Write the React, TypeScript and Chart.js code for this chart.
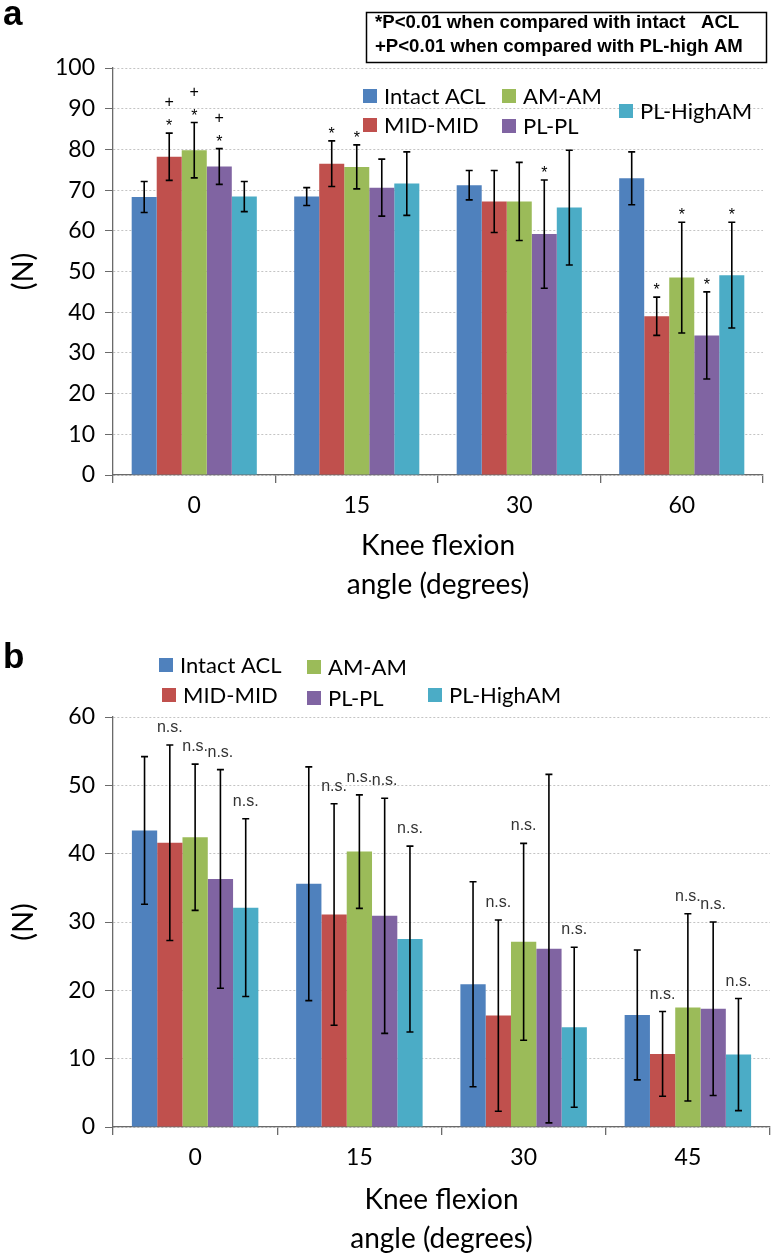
import React, { useEffect, useRef } from 'react';
import { Chart, registerables } from 'chart.js';

Chart.register(...registerables);

// ---------- data ----------
const SERIES = ['Intact ACL', 'MID-MID', 'AM-AM', 'PL-PL', 'PL-HighAM'];
const COLORS = ['#4F81BD', '#C0504D', '#9BBB59', '#8064A2', '#4BACC6'];

// Panel a
const A_ANGLES = ['0', '15', '30', '60'];
const A_INTACT = [68.3, 68.4, 71.2, 72.9];
const A_MID = [78.2, 76.5, 67.2, 39.0];
const A_AM = [79.8, 75.7, 67.2, 48.5];
const A_PL = [75.8, 70.6, 59.2, 34.3];
const A_HIGH = [68.4, 71.6, 65.7, 49.1];
const A_INTACT_SD = [3.8, 2.2, 3.6, 6.5];
const A_MID_SD = [5.8, 5.6, 7.6, 4.7];
const A_AM_SD = [6.8, 5.4, 9.6, 13.6];
const A_PL_SD = [4.4, 7.0, 13.3, 10.7];
const A_HIGH_SD = [3.7, 7.8, 14.1, 13.0];
// significance: * vs intact ACL, + vs PL-high AM
const A_STAR = [
  [0, 0, 0, 0],
  [1, 1, 0, 1],
  [1, 1, 0, 1],
  [1, 0, 1, 1],
  [0, 0, 0, 1],
];
const A_PLUS = [
  [0, 0, 0, 0],
  [1, 0, 0, 0],
  [1, 0, 0, 0],
  [1, 0, 0, 0],
  [0, 0, 0, 0],
];
const A_Y_TICKS = { min: 0, max: 100, step: 10 };

// Panel b
const B_ANGLES = ['0', '15', '30', '45'];
const B_INTACT = [43.4, 35.6, 20.9, 16.4];
const B_MID = [41.6, 31.1, 16.3, 10.7];
const B_AM = [42.4, 40.3, 27.1, 17.5];
const B_PL = [36.3, 30.9, 26.1, 17.3];
const B_HIGH = [32.1, 27.5, 14.6, 10.6];
const B_INTACT_SD = [10.8, 17.1, 15.0, 9.5];
const B_MID_SD = [14.3, 16.2, 14.0, 6.2];
const B_AM_SD = [10.7, 8.3, 14.4, 13.7];
const B_PL_SD = [16.0, 17.2, 25.5, 12.7];
const B_HIGH_SD = [13.0, 13.6, 11.7, 8.2];
const B_NS = [
  [0, 0, 0, 0],
  [1, 1, 1, 1],
  [1, 1, 1, 1],
  [1, 1, 0, 1],
  [1, 1, 1, 1],
];
const B_Y_TICKS = { min: 0, max: 60, step: 10 };

const X_TITLE = ['Knee flexion', 'angle (degrees)'];
const Y_TITLE = '(N)';
const NOTE_LINES = ['*P<0.01 when compared with intact   ACL', '+P<0.01 when compared with PL-high AM'];

// ---------- styling ----------
const CAL = "Lato, 'Open Sans', sans-serif";
const ARIAL = "'Liberation Sans', Arial, sans-serif";
const AXIS = '#6a6a6a';

type LegendPos = { sx: number; cy: number };

function makePlugins(opts: {
  sds: number[][];
  marks: (ctx: CanvasRenderingContext2D, x: number, top: number, di: number, j: number) => void;
  legend: LegendPos[];
  letter: { text: string; x: number; y: number };
  note?: boolean;
}) {
  return [
    {
      id: 'errbars',
      afterDatasetsDraw(chart: any) {
        const { ctx } = chart;
        const y = chart.scales.y;
        ctx.save();
        opts.sds.forEach((sdArr, di) => {
          const meta = chart.getDatasetMeta(di);
          meta.data.forEach((bar: any, j: number) => {
            const v = chart.data.datasets[di].data[j] as number;
            const top = y.getPixelForValue(v + sdArr[j]);
            const bot = y.getPixelForValue(v - sdArr[j]);
            const x = bar.x;
            ctx.strokeStyle = '#000';
            ctx.lineWidth = 1.6;
            ctx.beginPath();
            ctx.moveTo(x, top);
            ctx.lineTo(x, bot);
            ctx.moveTo(x - 3.5, top);
            ctx.lineTo(x + 3.5, top);
            ctx.moveTo(x - 3.5, bot);
            ctx.lineTo(x + 3.5, bot);
            ctx.stroke();
            opts.marks(ctx, x, top, di, j);
          });
        });
        ctx.restore();
      },
    },
    {
      id: 'decor',
      afterDraw(chart: any) {
        const { ctx } = chart;
        ctx.save();
        // panel letter
        ctx.fillStyle = '#000';
        ctx.font = `bold 35px ${ARIAL}`;
        ctx.textAlign = 'left';
        ctx.textBaseline = 'alphabetic';
        ctx.fillText(opts.letter.text, opts.letter.x, opts.letter.y);
        // legend
        ctx.font = `22px ${CAL}`;
        ctx.textBaseline = 'middle';
        opts.legend.forEach((p, i) => {
          ctx.fillStyle = COLORS[i];
          ctx.fillRect(p.sx, p.cy - 7, 14, 14);
          ctx.fillStyle = '#000';
          ctx.fillText(SERIES[i], p.sx + 21, p.cy + 1);
        });
        // note box
        if (opts.note) {
          ctx.strokeStyle = '#000';
          ctx.lineWidth = 1.5;
          ctx.strokeRect(366.5, 12.5, 400, 50);
          ctx.font = `bold 18.6px ${ARIAL}`;
          ctx.textBaseline = 'alphabetic';
          ctx.fillStyle = '#000';
          ctx.fillText(NOTE_LINES[0], 375, 28);
          ctx.fillText(NOTE_LINES[1], 375, 52);
        }
        ctx.restore();
      },
    },
  ];
}

function makeConfig(p: {
  labels: string[];
  data: number[][];
  sds: number[][];
  yt: { min: number; max: number; step: number };
  padTop: number;
  padRight: number;
  xHeight: number;
  titlePadBottom: number;
  marks: (ctx: CanvasRenderingContext2D, x: number, top: number, di: number, j: number) => void;
  legend: LegendPos[];
  letter: { text: string; x: number; y: number };
  note?: boolean;
}): any {
  return {
    type: 'bar',
    data: {
      labels: p.labels,
      datasets: SERIES.map((name, i) => ({
        label: name,
        data: p.data[i],
        backgroundColor: COLORS[i],
        borderWidth: 0,
        categoryPercentage: 0.77,
        barPercentage: 1.0,
      })),
    },
    options: {
      responsive: false,
      maintainAspectRatio: false,
      animation: false,
      layout: { padding: { top: p.padTop, right: p.padRight, left: 0, bottom: 0 } },
      plugins: {
        legend: { display: false },
        title: { display: false },
        tooltip: { enabled: false },
      },
      scales: {
        x: {
          grid: {
            display: true,
            drawOnChartArea: false,
            offset: true,
            tickLength: 8,
            color: AXIS,
            tickColor: AXIS,
            lineWidth: 1.3,
          },
          border: { display: true, color: AXIS, width: 1.3 },
          ticks: { font: { family: CAL, size: 23 }, color: '#000', padding: 9 },
          title: {
            display: true,
            text: X_TITLE,
            font: { family: CAL, size: 28, lineHeight: 1.4 },
            color: '#000',
            padding: { top: 0, bottom: p.titlePadBottom },
          },
          afterFit: (s: any) => {
            s.height = p.xHeight;
          },
        },
        y: {
          min: p.yt.min,
          max: p.yt.max,
          ticks: { stepSize: p.yt.step, font: { family: CAL, size: 23 }, color: '#000', padding: 10 },
          grid: { color: '#c4c4c4', tickColor: AXIS, tickLength: 8, lineWidth: 1 },
          border: { display: true, color: AXIS, width: 1.3, dash: [2, 2] },
          title: {
            display: true,
            text: Y_TITLE,
            font: { family: CAL, size: 29, lineHeight: 1.2 },
            color: '#000',
            padding: { top: 6, bottom: 0 },
          },
          afterFit: (s: any) => {
            s.width = 113;
          },
        },
      },
    },
    plugins: makePlugins({ sds: p.sds, marks: p.marks, legend: p.legend, letter: p.letter, note: p.note }),
  };
}

const markA = (ctx: CanvasRenderingContext2D, x: number, top: number, di: number, j: number) => {
  ctx.save();
  ctx.fillStyle = '#000';
  ctx.textAlign = 'center';
  ctx.textBaseline = 'alphabetic';
  ctx.font = `16px ${ARIAL}`;
  if (A_STAR[di][j]) ctx.fillText('*', x, top - 2);
  if (A_PLUS[di][j]) ctx.fillText('+', x, top - 26);
  ctx.restore();
};

const markB = (ctx: CanvasRenderingContext2D, x: number, top: number, di: number, j: number) => {
  if (!B_NS[di][j]) return;
  ctx.save();
  ctx.fillStyle = '#333';
  ctx.textAlign = 'center';
  ctx.textBaseline = 'alphabetic';
  ctx.font = `16px ${ARIAL}`;
  ctx.fillText('n.s.', x, top - 13);
  ctx.restore();
};

export default function App() {
  const refA = useRef<HTMLCanvasElement | null>(null);
  const refB = useRef<HTMLCanvasElement | null>(null);

  useEffect(() => {
    const chartA = new Chart(
      refA.current as HTMLCanvasElement,
      makeConfig({
        labels: A_ANGLES,
        data: [A_INTACT, A_MID, A_AM, A_PL, A_HIGH],
        sds: [A_INTACT_SD, A_MID_SD, A_AM_SD, A_PL_SD, A_HIGH_SD],
        yt: A_Y_TICKS,
        padTop: 68,
        padRight: 11,
        xHeight: 145,
        titlePadBottom: 15,
        marks: markA,
        legend: [
          { sx: 363, cy: 96 },
          { sx: 363, cy: 125 },
          { sx: 502, cy: 96 },
          { sx: 502, cy: 126 },
          { sx: 619, cy: 111 },
        ],
        letter: { text: 'a', x: 3, y: 25 },
        note: true,
      })
    );
    const chartB = new Chart(
      refB.current as HTMLCanvasElement,
      makeConfig({
        labels: B_ANGLES,
        data: [B_INTACT, B_MID, B_AM, B_PL, B_HIGH],
        sds: [B_INTACT_SD, B_MID_SD, B_AM_SD, B_PL_SD, B_HIGH_SD],
        yt: B_Y_TICKS,
        padTop: 97,
        padRight: 4,
        xHeight: 132,
        titlePadBottom: 0,
        marks: markB,
        legend: [
          { sx: 159, cy: 45 },
          { sx: 162, cy: 75 },
          { sx: 307, cy: 47 },
          { sx: 307, cy: 78 },
          { sx: 428, cy: 75 },
        ],
        letter: { text: 'b', x: 3, y: 48 },
      })
    );
    return () => {
      chartA.destroy();
      chartB.destroy();
    };
  }, []);

  return (
    <div style={{ position: 'absolute', left: 0, top: 0, width: 774, height: 1259, background: '#fff' }}>
      <canvas ref={refA} width={774} height={620} style={{ position: 'absolute', left: 0, top: 0 }} />
      <canvas ref={refB} width={774} height={639} style={{ position: 'absolute', left: 0, top: 620 }} />
    </div>
  );
}
